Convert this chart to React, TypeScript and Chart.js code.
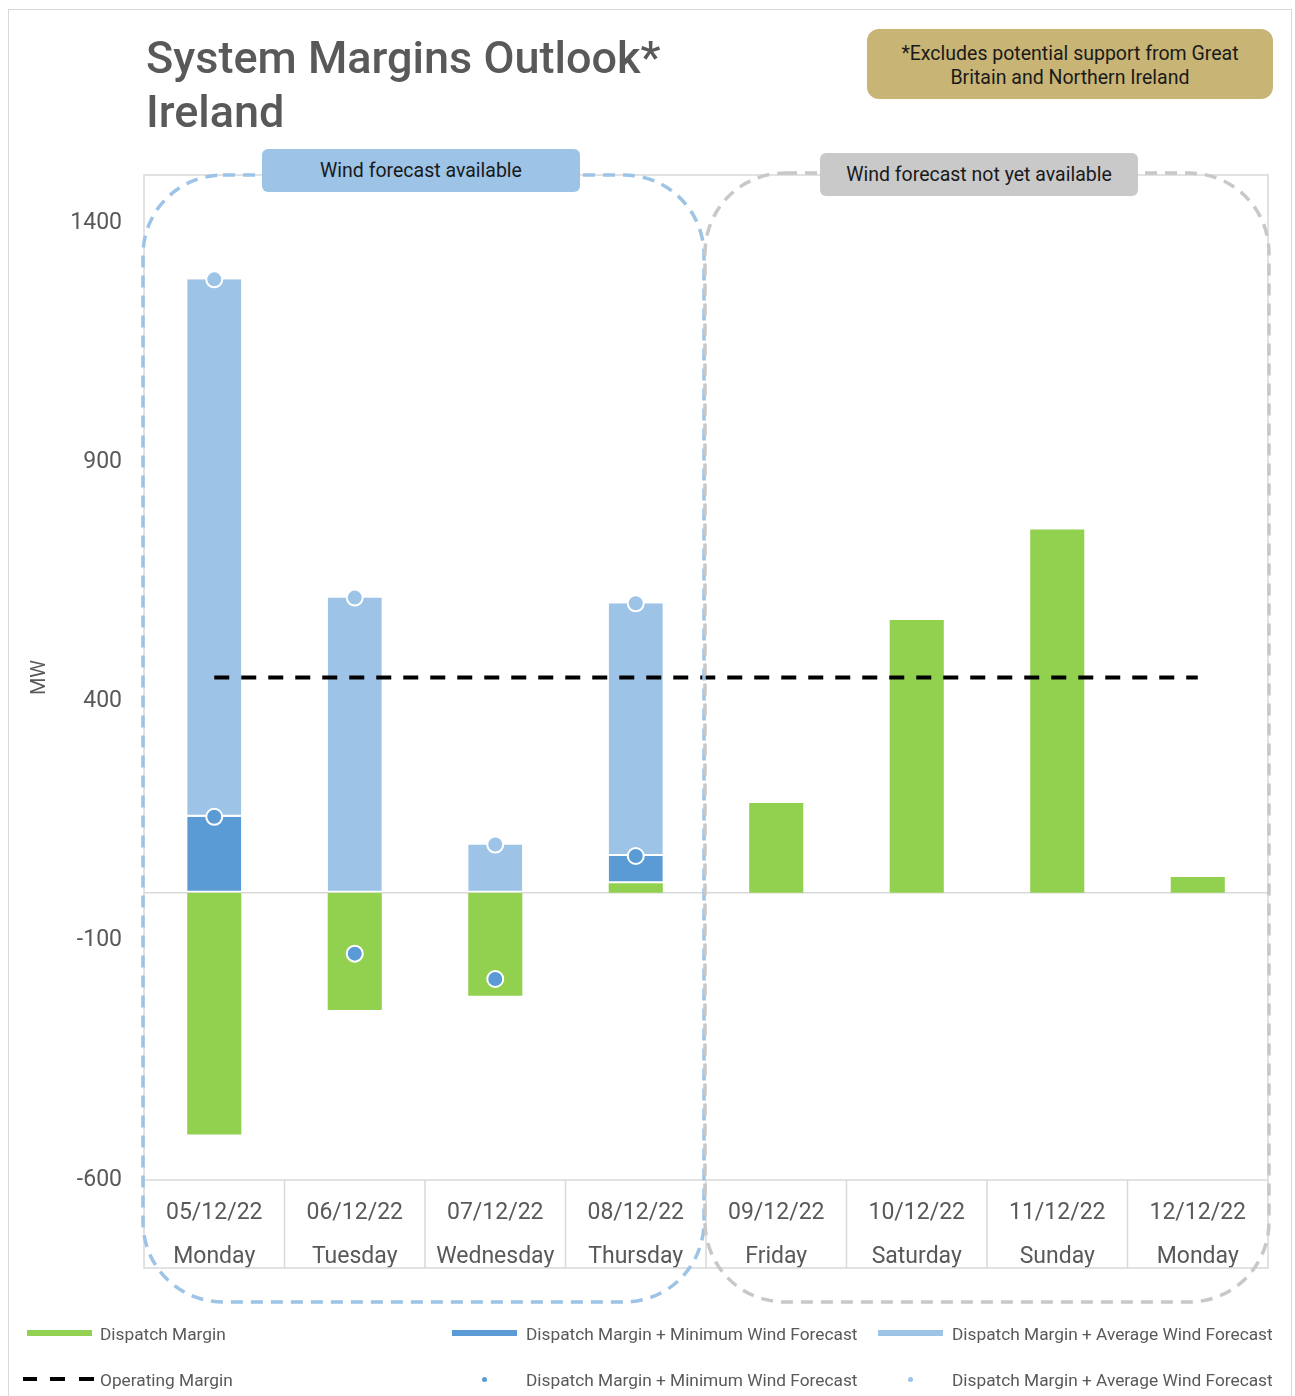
import React, { useEffect, useRef } from 'react';
import { Chart, registerables } from 'chart.js';

Chart.register(...registerables);

const dates = ['05/12/22', '06/12/22', '07/12/22', '08/12/22', '09/12/22', '10/12/22', '11/12/22', '12/12/22'];
const days = ['Monday', 'Tuesday', 'Wednesday', 'Thursday', 'Friday', 'Saturday', 'Sunday', 'Monday'];
const dispatchMargin = [-505, -245, -215, 20, 188, 570, 759, 33];
const minWindMargin: (number | null)[] = [159, -127, -180, 77, null, null, null, null];
const avgWindMargin: (number | null)[] = [1282, 617, 101, 605, null, null, null, null];
const operatingMargin = [450, 450, 450, 450, 450, 450, 450, 450];
const yTicks = [-600, -100, 400, 900, 1400];
const yMin = -600;
const yMax = 1500;

const GREEN = '#92D050';
const DARK_BLUE = '#5B9BD5';
const LIGHT_BLUE = '#9DC3E6';
const TEXT = '#595959';
const FONT = 'Roboto, "Liberation Sans", sans-serif';

// stacked segments built from the totals
const minWindSegment = dispatchMargin.map((d, i) => {
  const m = minWindMargin[i];
  if (m == null) return null;
  const base = Math.max(d, 0);
  return m > base ? m - base : null;
});
const avgWindSegment = dispatchMargin.map((d, i) => {
  const a = avgWindMargin[i];
  if (a == null) return null;
  const base = Math.max(d, 0, minWindMargin[i] ?? 0);
  return a > base ? a - base : null;
});

const AXIS_BAND = 88;
const BOX_BOTTOM = 1302;

const decor = {
  id: 'decor',
  beforeDatasetsDraw(chart: any) {
    const { ctx, chartArea, scales } = chart;
    const { left, right, top, bottom } = chartArea;
    const x = scales.x;
    const y = scales.y;
    const frameBottom = bottom + AXIS_BAND;
    ctx.save();
    ctx.strokeStyle = '#D9D9D9';
    ctx.lineWidth = 1.5;
    ctx.strokeRect(left, top, right - left, frameBottom - top);
    const line = (x1: number, y1: number, x2: number, y2: number) => {
      ctx.beginPath();
      ctx.moveTo(x1, y1);
      ctx.lineTo(x2, y2);
      ctx.stroke();
    };
    line(left, bottom, right, bottom);
    const y0 = y.getPixelForValue(0);
    line(left, y0, right, y0);
    for (let i = 1; i < dates.length; i++) {
      const xs = (x.getPixelForValue(i - 1) + x.getPixelForValue(i)) / 2;
      line(xs, bottom, xs, frameBottom);
    }
    ctx.restore();
  },
  afterDatasetsDraw(chart: any) {
    const { ctx, chartArea, scales } = chart;
    const { left, right, top } = chartArea;
    const x = scales.x;
    const mid = (x.getPixelForValue(3) + x.getPixelForValue(4)) / 2;
    ctx.save();
    ctx.lineWidth = 3.5;
    ctx.setLineDash([12, 8]);
    ctx.strokeStyle = LIGHT_BLUE;
    ctx.beginPath();
    ctx.roundRect(left - 1, top, mid - 2 - (left - 1), BOX_BOTTOM - top, 80);
    ctx.stroke();
    ctx.strokeStyle = '#C8C8C8';
    ctx.beginPath();
    ctx.roundRect(mid - 1, top - 2, right + 1 - (mid - 1), BOX_BOTTOM - top + 2, 80);
    ctx.stroke();
    ctx.restore();
  },
};

function ChartCanvas() {
  const ref = useRef<HTMLCanvasElement>(null);
  useEffect(() => {
    if (!ref.current) return;
    const chart = new Chart(ref.current, {
      type: 'bar',
      data: {
        labels: dates.map((d, i) => [d, days[i]]),
        datasets: [
          {
            type: 'line',
            label: 'Dispatch Margin + Average Wind Forecast (point)',
            data: avgWindMargin,
            stack: 'avgp',
            showLine: false,
            pointRadius: 8,
            pointHoverRadius: 8,
            pointBackgroundColor: LIGHT_BLUE,
            pointBorderColor: '#FFFFFF',
            pointBorderWidth: 2,
            order: 0,
          } as any,
          {
            type: 'line',
            label: 'Dispatch Margin + Minimum Wind Forecast (point)',
            data: minWindMargin,
            stack: 'minp',
            showLine: false,
            pointRadius: 8,
            pointHoverRadius: 8,
            pointBackgroundColor: DARK_BLUE,
            pointBorderColor: '#FFFFFF',
            pointBorderWidth: 2,
            order: 0,
          } as any,
          {
            type: 'line',
            label: 'Operating Margin',
            data: operatingMargin,
            stack: 'op',
            borderColor: '#000000',
            borderWidth: 3.8,
            borderDash: [15, 12],
            pointRadius: 0,
            fill: false,
            order: 1,
          } as any,
          {
            type: 'bar',
            label: 'Dispatch Margin',
            data: dispatchMargin,
            backgroundColor: GREEN,
            borderWidth: 0,
            stack: 'bars',
            order: 2,
          },
          {
            type: 'bar',
            label: 'Dispatch Margin + Minimum Wind Forecast',
            data: minWindSegment,
            backgroundColor: DARK_BLUE,
            borderColor: '#FFFFFF',
            borderWidth: { top: 0, left: 0, right: 0, bottom: 2 },
            borderSkipped: false,
            stack: 'bars',
            order: 2,
          } as any,
          {
            type: 'bar',
            label: 'Dispatch Margin + Average Wind Forecast',
            data: avgWindSegment,
            backgroundColor: LIGHT_BLUE,
            borderColor: '#FFFFFF',
            borderWidth: { top: 0, left: 0, right: 0, bottom: 2 },
            borderSkipped: false,
            stack: 'bars',
            order: 2,
          } as any,
        ],
      },
      options: {
        responsive: false,
        animation: false,
        devicePixelRatio: 1,
        layout: { padding: { left: 0, top: 175, right: 27, bottom: 128 } },
        datasets: {
          bar: { categoryPercentage: 1, barPercentage: 0.385 },
        },
        plugins: {
          legend: { display: false },
          tooltip: { enabled: false },
        },
        scales: {
          x: {
            stacked: true,
            offset: true,
            grid: { display: false, drawTicks: false },
            border: { display: false },
            ticks: {
              autoSkip: false,
              maxRotation: 0,
              padding: 11,
              color: TEXT,
              font: { family: FONT, size: 23, lineHeight: 44 / 23 },
            },
            afterFit: (s: any) => {
              s.height = AXIS_BAND;
            },
          },
          y: {
            stacked: true,
            min: yMin,
            max: yMax,
            grid: { display: false, drawTicks: false },
            border: { display: false },
            afterBuildTicks: (s: any) => {
              s.ticks = yTicks.map((v) => ({ value: v }));
            },
            ticks: {
              padding: 22,
              color: TEXT,
              font: { family: FONT, size: 23 },
              callback: (v: any) => String(v),
            },
            title: {
              display: true,
              text: 'MW',
              color: TEXT,
              font: { family: FONT, size: 20 },
              padding: { top: 28, bottom: 0 },
            },
            afterFit: (s: any) => {
              s.width = 144;
            },
          },
        },
      },
      plugins: [decor],
    });
    return () => chart.destroy();
  }, []);
  return (
    <canvas
      ref={ref}
      width={1295}
      height={1396}
      style={{ position: 'absolute', left: 0, top: 0, width: 1295, height: 1396 }}
    />
  );
}

const legendText: React.CSSProperties = {
  position: 'absolute',
  fontFamily: FONT,
  fontSize: 17.3,
  color: TEXT,
  lineHeight: '20px',
  whiteSpace: 'nowrap',
};

function Swatch({ x, y, w, h, color }: { x: number; y: number; w: number; h: number; color: string }) {
  return <div style={{ position: 'absolute', left: x, top: y, width: w, height: h, background: color }} />;
}

export default function App() {
  return (
    <div style={{ position: 'absolute', left: 0, top: 0, width: 1295, height: 1396, overflow: 'hidden', background: '#fff' }}>
      <div style={{ position: 'absolute', left: 8, top: 9, width: 1284, height: 1400, border: '1.5px solid #D9D9D9', boxSizing: 'border-box' }} />
      <ChartCanvas />
      <div
        style={{
          position: 'absolute',
          left: 146,
          top: 31,
          fontFamily: FONT,
          fontWeight: 500,
          fontSize: 45,
          lineHeight: '54px',
          color: TEXT,
          whiteSpace: 'nowrap',
        }}
      >
        System Margins Outlook*
        <br />
        Ireland
      </div>
      <div
        style={{
          position: 'absolute',
          left: 867,
          top: 29,
          width: 406,
          height: 70,
          borderRadius: 12,
          background: '#C8B475',
          fontFamily: FONT,
          fontSize: 19.5,
          lineHeight: '24px',
          color: '#1A1A1A',
          textAlign: 'center',
          display: 'flex',
          alignItems: 'center',
          justifyContent: 'center',
        }}
      >
        <div style={{ marginTop: 3 }}>
          *Excludes potential support from Great
          <br />
          Britain and Northern Ireland
        </div>
      </div>
      <div
        style={{
          position: 'absolute',
          left: 262,
          top: 149,
          width: 318,
          height: 43,
          borderRadius: 6,
          background: LIGHT_BLUE,
          fontFamily: FONT,
          fontSize: 19.5,
          color: '#1A1A1A',
          display: 'flex',
          alignItems: 'center',
          justifyContent: 'center',
        }}
      >
        Wind forecast available
      </div>
      <div
        style={{
          position: 'absolute',
          left: 820,
          top: 153,
          width: 318,
          height: 43,
          borderRadius: 6,
          background: '#C9C9C9',
          fontFamily: FONT,
          fontSize: 19.5,
          color: '#1A1A1A',
          display: 'flex',
          alignItems: 'center',
          justifyContent: 'center',
        }}
      >
        Wind forecast not yet available
      </div>
      {/* legend row 1 */}
      <Swatch x={27} y={1330} w={65} h={6} color={GREEN} />
      <div style={{ ...legendText, left: 100, top: 1324 }}>Dispatch Margin</div>
      <Swatch x={452} y={1330} w={65} h={6} color={DARK_BLUE} />
      <div style={{ ...legendText, left: 526, top: 1324 }}>Dispatch Margin + Minimum Wind Forecast</div>
      <Swatch x={878} y={1330} w={65} h={6} color={LIGHT_BLUE} />
      <div style={{ ...legendText, left: 952, top: 1324 }}>Dispatch Margin + Average Wind Forecast</div>
      {/* legend row 2 */}
      <Swatch x={23} y={1377} w={14} h={4} color="#000" />
      <Swatch x={50} y={1377} w={15} h={4} color="#000" />
      <Swatch x={79} y={1377} w={15} h={4} color="#000" />
      <div style={{ ...legendText, left: 100, top: 1370 }}>Operating Margin</div>
      <div style={{ position: 'absolute', left: 482, top: 1377, width: 5, height: 5, borderRadius: 3, background: DARK_BLUE }} />
      <div style={{ ...legendText, left: 526, top: 1370 }}>Dispatch Margin + Minimum Wind Forecast</div>
      <div style={{ position: 'absolute', left: 908, top: 1377, width: 5, height: 5, borderRadius: 3, background: LIGHT_BLUE }} />
      <div style={{ ...legendText, left: 952, top: 1370 }}>Dispatch Margin + Average Wind Forecast</div>
    </div>
  );
}
